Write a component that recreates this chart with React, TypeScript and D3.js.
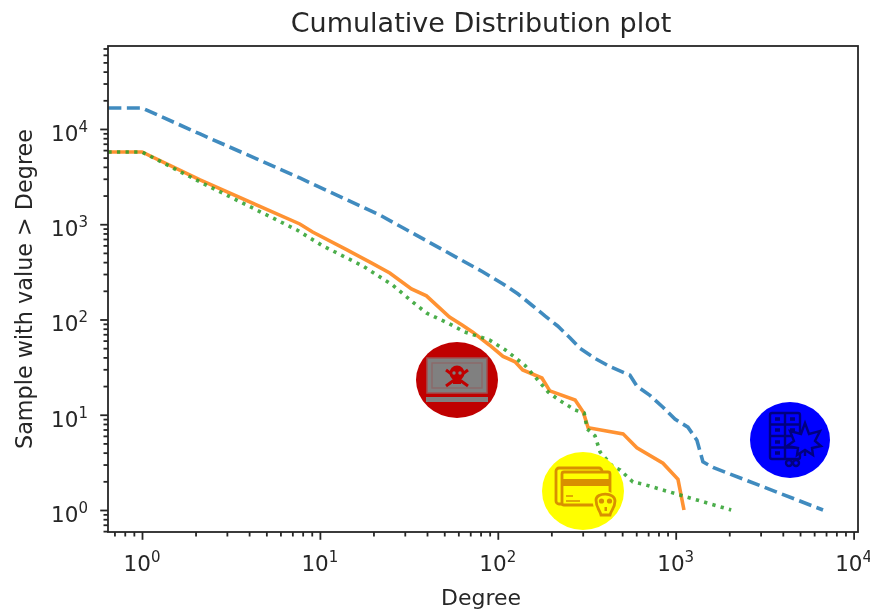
import React, { useRef, useEffect } from 'react';
import * as d3 from 'd3';

const blueDegree = [0.647, 1, 2.12, 7.71, 21.7, 82.6, 107, 130, 155, 184, 217, 255, 289, 352, 427, 553, 605, 716, 848, 990, 1171, 1316, 1423, 1620, 6730];
const blueCount = [16600, 16600, 8860, 3060, 1250, 315, 236, 185, 142, 109, 85.5, 64, 50, 39, 32, 26, 20, 16, 12, 9, 7.4, 5.4, 3.2, 2.8, 1];

const orangeDegree = [0.647, 1, 2.12, 7.71, 9.1, 14.2, 19, 24.7, 32.7, 39.7, 53.5, 63, 72, 89.6, 107, 125, 138, 177, 196, 272, 302, 322, 506, 605, 848, 1030, 1113];
const orangeCount = [5735, 5735, 2915, 1006, 829, 537, 402, 308, 209, 177, 106, 87.5, 74, 54, 41, 36, 29.5, 24.3, 17.8, 14.3, 10.7, 7.3, 6.3, 4.5, 3.1, 2.1, 1];

const greenDegree = [0.647, 1, 2.12, 7.43, 10.4, 17.4, 25.6, 33.2, 39.7, 53.5, 65, 89.6, 110, 142, 162, 192, 224, 272, 306, 318, 352, 376, 445, 487, 574, 653, 2050];
const greenCount = [5735, 5735, 2780, 870, 591, 365, 230, 153, 117, 90, 74, 61, 48, 33, 25, 17.3, 14, 11.2, 10.4, 7.1, 6, 4.06, 2.83, 2.63, 1.97, 1.87, 1];

const xExponents = [0, 1, 2, 3, 4];
const yExponents = [0, 1, 2, 3, 4];
const minorSteps = [2, 3, 4, 5, 6, 7, 8, 9];

const FONT = '"DejaVu Sans", sans-serif';
const INK = '#262626';

const zip = (xs: number[], ys: number[]) => xs.map((d, i) => [d, ys[i]] as [number, number]);

const MalwareIcon = () => (
  <g transform="translate(457,380)">
    <ellipse rx={41} ry={38} fill="#c00000" />
    <rect x={-30} y={-22} width={60} height={35} fill="#808080" stroke="#a05050" strokeWidth={1.5} />
    <rect x={-25} y={-17} width={50} height={25} fill="#808080" stroke="#8a6a6a" strokeWidth={1.5} />
    <rect x={-31} y={17} width={62} height={5} fill="#808080" />
    <g fill="#c00000" stroke="#c00000">
      <circle cy={-7} r={7.5} stroke="none" />
      <rect x={-4} y={-2} width={8} height={6} stroke="none" />
      <path d="M-11,-10 L11,6 M11,-10 L-11,6" strokeWidth={3} fill="none" />
    </g>
    <circle cx={-3} cy={-7} r={1.7} fill="#808080" />
    <circle cx={3} cy={-7} r={1.7} fill="#808080" />
  </g>
);

const CardIcon = () => (
  <g transform="translate(583,491)">
    <ellipse rx={41} ry={39} fill="#ffff00" />
    <g fill="none" stroke="#d89000" strokeWidth={2.8}>
      <rect x={-27} y={-23} width={46} height={36} rx={3} />
      <rect x={-21} y={-19} width={48} height={33} rx={2} fill="#ffff00" />
      <rect x={-21} y={-12} width={48} height={7} fill="#d89000" stroke="none" />
      <path d="M-17,5 H-10 M-17,10 H-3" strokeWidth={1.5} />
      <circle cx={22} cy={12} r={12} fill="#ffff00" stroke="none" />
      <path d="M13,9 C13,1 32,1 32,10 C32,17 28,19 27,24 H18 C17,19 13,17 13,9 Z" fill="#ffff00" strokeWidth={2.8} />
      <circle cx={18.5} cy={10} r={2.6} fill="#d89000" stroke="none" />
      <circle cx={26.5} cy={10} r={2.6} fill="#d89000" stroke="none" />
      <rect x={21.5} y={16} width={2.5} height={4} fill="#d89000" stroke="none" />
    </g>
  </g>
);

const DrugIcon = () => (
  <g transform="translate(790,440)">
    <ellipse rx={40} ry={38} fill="#0000ff" />
    <g fill="none" stroke="#000080" strokeWidth={2.4}>
      <rect x={-20} y={-27} width={30} height={46} rx={2} />
      <path d="M-5,-27 V19 M-20,-15.5 H10 M-20,-4 H10 M-20,7.5 H10" />
      <path d="M-15,-21 H-10 M0,-21 H5 M-15,-10 H-10 M0,-10 H5 M-15,2 H-10 M-15,13 H-10" strokeWidth={3.5} />
      <path
        d="M15,-17 L19,-6 L30,-9 L25,1 L31,6 L22,8 L23,15 L15,10 L7,15 L8,8 L-3,6 L4,1 L0,-9 L11,-6 Z"
        fill="#0000ff"
        strokeWidth={2.4}
      />
      <path d="M15,10 V16" />
      <circle cx={-1} cy={23} r={3} />
      <circle cx={6} cy={23} r={3} />
    </g>
  </g>
);

const App = () => {
  const svgRef = useRef<SVGSVGElement>(null);

  useEffect(() => {
    const left = 108, right = 858, top = 46, bottom = 532;
    const svg = d3.select(svgRef.current);
    svg.select('.chart').remove();

    const x = d3.scaleLog().domain([10 ** -0.1911, 10 ** 4.0247]).range([left, right]);
    const y = d3.scaleLog().domain([10 ** -0.231, 10 ** 4.871]).range([bottom, top]);

    const g = svg.insert('g', ':first-child').attr('class', 'chart');

    const line = d3.line<[number, number]>().x(d => x(d[0])).y(d => y(d[1]));
    const series = [
      { points: zip(blueDegree, blueCount), color: '#1f77b4', dash: '13,5.5' },
      { points: zip(orangeDegree, orangeCount), color: '#ff7f0e', dash: null },
      { points: zip(greenDegree, greenCount), color: '#2ca02c', dash: '3.3,5.3' },
    ];
    series.forEach(s => {
      g.append('path')
        .attr('d', line(s.points))
        .attr('fill', 'none')
        .attr('stroke', s.color)
        .attr('stroke-width', 3.6)
        .attr('stroke-opacity', 0.85)
        .attr('stroke-dasharray', s.dash);
    });

    const minorsIn = (scale: d3.ScaleLogarithmic<number, number>) => {
      const [lo, hi] = scale.domain();
      return d3.range(-1, 5).flatMap(e => minorSteps.map(m => m * 10 ** e)).filter(v => v >= lo && v <= hi);
    };

    const xAxis = g.append('g').attr('transform', `translate(0,${bottom})`);
    xAxis.call(d3.axisBottom(x).tickValues(minorsIn(x)).tickSize(4.5).tickFormat(() => ''));
    const xMajor = g.append('g').attr('transform', `translate(0,${bottom})`);
    xMajor.call(d3.axisBottom(x).tickValues(xExponents.map(e => 10 ** e)).tickSize(7.8).tickFormat(() => ''));

    const yAxis = g.append('g').attr('transform', `translate(${left},0)`);
    yAxis.call(d3.axisLeft(y).tickValues(minorsIn(y)).tickSize(4.5).tickFormat(() => ''));
    const yMajor = g.append('g').attr('transform', `translate(${left},0)`);
    yMajor.call(d3.axisLeft(y).tickValues(yExponents.map(e => 10 ** e)).tickSize(7.8).tickFormat(() => ''));

    [xAxis, xMajor, yAxis, yMajor].forEach(a => {
      a.select('.domain').remove();
      a.selectAll('line').attr('stroke', INK).attr('stroke-width', 1.8);
    });

    g.append('rect')
      .attr('x', left).attr('y', top)
      .attr('width', right - left).attr('height', bottom - top)
      .attr('fill', 'none').attr('stroke', INK).attr('stroke-width', 1.8);

    const power = (sel: d3.Selection<SVGTextElement, unknown, null, undefined>, e: number) => {
      sel.append('tspan').text('10');
      sel.append('tspan').attr('dy', -9).attr('font-size', 15).text(String(e));
    };

    xExponents.forEach(e => {
      g.append('text')
        .attr('x', x(10 ** e)).attr('y', 571)
        .attr('text-anchor', 'middle')
        .attr('font-size', 21.5).attr('font-family', FONT).attr('fill', INK)
        .call(power as any, e);
    });
    yExponents.forEach(e => {
      g.append('text')
        .attr('x', 88).attr('y', y(10 ** e) + 12)
        .attr('text-anchor', 'end')
        .attr('font-size', 21.5).attr('font-family', FONT).attr('fill', INK)
        .call(power as any, e);
    });

    const label = (text: string, px: number, py: number, size: number) =>
      g.append('text').attr('x', px).attr('y', py)
        .attr('text-anchor', 'middle')
        .attr('font-size', size).attr('font-family', FONT).attr('fill', INK)
        .text(text);

    label('Cumulative Distribution plot', 481, 32, 27);
    label('Degree', 481, 605, 22);
    label('Sample with value > Degree', 0, 0, 22.3)
      .attr('transform', 'translate(32,289) rotate(-90)');
  }, []);

  return (
    <svg
      ref={svgRef}
      width={870}
      height={611}
      style={{ position: 'absolute', left: 0, top: 0, display: 'block', background: '#fff', filter: 'blur(0.7px)' }}
    >
      <MalwareIcon />
      <CardIcon />
      <DrugIcon />
    </svg>
  );
};

export default App;
